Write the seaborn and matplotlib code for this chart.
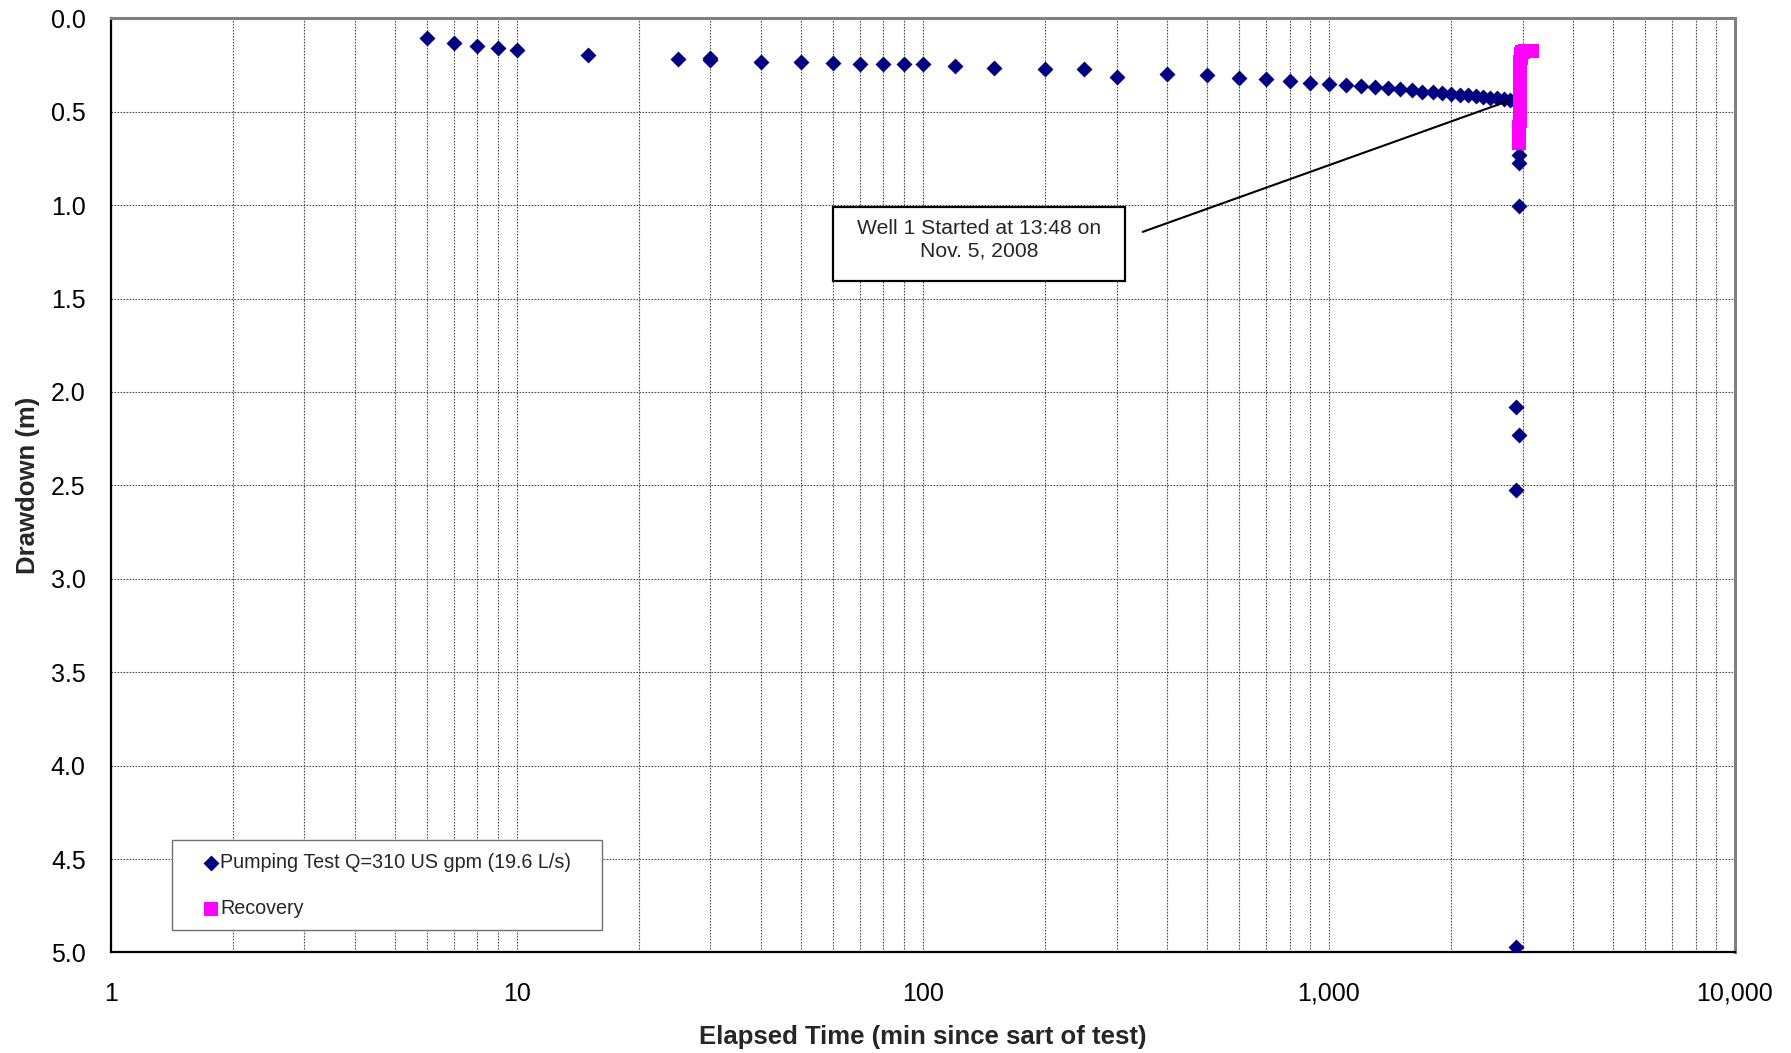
import numpy as np
import pandas as pd
import matplotlib
matplotlib.use("Agg")
import matplotlib.pyplot as plt
import matplotlib.ticker as mticker
from matplotlib.patches import Rectangle
import seaborn as sns

# ---- data ----
pump_time = [6, 7, 8, 9, 10, 15, 25, 30, 30, 40, 50, 60, 70, 80, 90, 100, 120, 150,
             200, 250, 300, 400, 500, 600, 700, 800, 900, 1000, 1100, 1200, 1300,
             1400, 1500, 1600, 1700, 1800, 1900, 2000, 2100, 2200, 2300, 2400, 2500,
             2600, 2700, 2800, 2880, 2944, 2944, 2944, 2895, 2944, 2895, 2895]
pump_dd = [0.107, 0.13, 0.148, 0.161, 0.17, 0.196, 0.219, 0.213, 0.222, 0.232, 0.234,
           0.241, 0.243, 0.243, 0.246, 0.246, 0.255, 0.264, 0.273, 0.273, 0.312, 0.30,
           0.306, 0.318, 0.324, 0.336, 0.344, 0.35, 0.356, 0.362, 0.368, 0.374, 0.38,
           0.386, 0.392, 0.397, 0.401, 0.405, 0.409, 0.413, 0.417, 0.421, 0.425, 0.429,
           0.433, 0.437, 0.44, 0.733, 0.776, 1.002, 2.08, 2.233, 2.524, 4.97]

rec_time = [2940, 2942, 2944, 2946, 2948, 2950, 2951, 2952, 2953, 2954, 2955, 2956,
            2957, 2958, 2959, 2960, 2962, 2965, 2970, 2978, 2990, 3010, 3040, 3080,
            3120, 3160]
rec_dd = [0.67, 0.64, 0.61, 0.58, 0.55, 0.52, 0.49, 0.46, 0.43, 0.40, 0.375, 0.35,
          0.325, 0.30, 0.275, 0.255, 0.235, 0.215, 0.2, 0.19, 0.182, 0.178, 0.175,
          0.174, 0.173, 0.173]

pump_label = "Pumping Test Q=310 US gpm (19.6 L/s)"
rec_label = "Recovery"
x_ticks = [1, 10, 100, 1000, 10000]
y_ticks = [0.0, 0.5, 1.0, 1.5, 2.0, 2.5, 3.0, 3.5, 4.0, 4.5, 5.0]
annot_lines = ["Well 1 Started at 13:48 on", "Nov. 5, 2008"]

sns.set_style("white")
plt.rcParams['font.family'] = ['Liberation Sans', 'DejaVu Sans']

fig, ax = plt.subplots(figsize=(17.91, 10.53), dpi=100)
fig.subplots_adjust(left=0.0618, right=0.9687, top=0.9826, bottom=0.0955)
ax.set_xscale('log')

pump_df = pd.DataFrame({"t": pump_time, "s": pump_dd})
rec_df = pd.DataFrame({"t": rec_time, "s": rec_dd})
sns.scatterplot(data=pump_df, x="t", y="s", marker="D", s=66, color="#000080",
                linewidth=0, ax=ax, label=pump_label, zorder=3)
sns.scatterplot(data=rec_df, x="t", y="s", marker="s", s=90, color="#FF00FF",
                linewidth=0, ax=ax, label=rec_label, zorder=3)

ax.set_xlim(1, 10000)
ax.set_ylim(5.0, 0.0)
ax.set_xticks(x_ticks)
ax.xaxis.set_major_formatter(mticker.FuncFormatter(lambda v, p: f"{int(round(v)):,}"))
ax.xaxis.set_minor_locator(mticker.LogLocator(base=10, subs=np.arange(2, 10)))
ax.xaxis.set_minor_formatter(mticker.NullFormatter())
ax.set_yticks(y_ticks)
ax.yaxis.set_major_formatter(mticker.FormatStrFormatter("%.1f"))

grid_kw = dict(color="#505050", linestyle=(0, (1.5, 1.2)), linewidth=0.8)
ax.grid(which="major", axis="both", **grid_kw)
ax.grid(which="minor", axis="x", **grid_kw)
ax.set_axisbelow(True)

ax.tick_params(which="major", direction="out", length=6, width=1, color="black",
               labelsize=18, colors="black")
ax.tick_params(axis="x", which="major", pad=15)
ax.tick_params(axis="y", which="major", pad=12)
ax.tick_params(which="minor", length=0)

for side in ["left", "bottom"]:
    ax.spines[side].set_color("black")
    ax.spines[side].set_linewidth(1.6)
for side in ["top", "right"]:
    ax.spines[side].set_color("#808080")
    ax.spines[side].set_linewidth(2.2)

ax.set_xlabel("Elapsed Time (min since sart of test)", fontsize=18.5, fontweight="bold")
ax.set_ylabel("Drawdown (m)", fontsize=18.5, fontweight="bold")
ax.xaxis.set_label_coords(0.5, -0.078)
ax.yaxis.set_label_coords(-0.0435, 0.5)

# legend with separate frame
ax.add_patch(Rectangle((0.038, 0.0244), 0.3025 - 0.038, 0.1199 - 0.0244,
                       transform=ax.transAxes, facecolor="white", edgecolor="#707070",
                       linewidth=1.0, zorder=4))
leg = ax.legend(loc="center left", bbox_to_anchor=(0.057, 0.0715), frameon=False,
                fontsize=14.2, borderpad=0, borderaxespad=0, handlelength=0.76,
                handletextpad=0.1, labelspacing=1.35)
leg.set_zorder(5)

# annotation box and leader line
ax.add_patch(Rectangle((0.4447, 0.7188), 0.6245 - 0.4447, 0.798 - 0.7188,
                       transform=ax.transAxes, facecolor="white", edgecolor="black",
                       linewidth=1.6, zorder=4))
ax.text(0.5346, 0.7755, annot_lines[0], transform=ax.transAxes, ha="center",
        va="center", fontsize=15.2, zorder=5)
ax.text(0.5346, 0.7505, annot_lines[1], transform=ax.transAxes, ha="center",
        va="center", fontsize=15.2, zorder=5)
ax.annotate("", xy=(2786, 0.44), xytext=(348, 1.143),
            arrowprops=dict(arrowstyle="-", color="black", lw=1.5, shrinkA=0, shrinkB=0),
            zorder=4)

fig.savefig("out.png", dpi=100)
